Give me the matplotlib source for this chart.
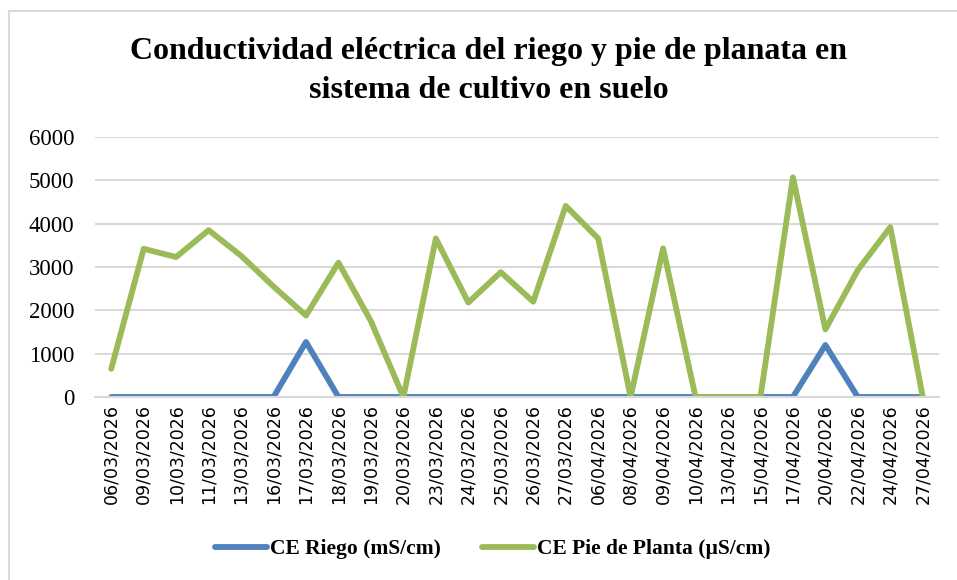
import matplotlib
matplotlib.use("Agg")
import matplotlib.pyplot as plt
from matplotlib.patches import Rectangle

fechas = ["06/03/2026", "09/03/2026", "10/03/2026", "11/03/2026", "13/03/2026",
          "16/03/2026", "17/03/2026", "18/03/2026", "19/03/2026", "20/03/2026",
          "23/03/2026", "24/03/2026", "25/03/2026", "26/03/2026", "27/03/2026",
          "06/04/2026", "08/04/2026", "09/04/2026", "10/04/2026", "13/04/2026",
          "15/04/2026", "17/04/2026", "20/04/2026", "22/04/2026", "24/04/2026",
          "27/04/2026"]
ce_riego = [0, 0, 0, 0, 0, 0, 1270, 0, 0, 0,
            0, 0, 0, 0, 0, 0, 0, 0, 0, 0,
            0, 0, 1200, 0, 0, 0]
ce_pie = [650, 3420, 3230, 3850, 3260, 2550, 1880, 3100, 1750, 0,
          3660, 2180, 2880, 2200, 4410, 3660, 0, 3430, 0, 0,
          0, 5070, 1560, 2930, 3920, 0]

serif = "Liberation Serif"

fig = plt.figure(figsize=(9.57, 5.8), dpi=100)
fig.patches.append(Rectangle((9/957, -0.05), 1.1, 1 - 11/580 + 0.05,
                             transform=fig.transFigure, fill=False,
                             edgecolor="#d9d9d9", linewidth=1.5))

ax = fig.add_axes([95/957, 1 - 397/580, 844/957, 260/580])
x = list(range(len(fechas)))
l1, = ax.plot(x, ce_riego, color="#4f81bd", linewidth=4.2,
              solid_joinstyle="round", solid_capstyle="round",
              label="CE Riego (mS/cm)")
l2, = ax.plot(x, ce_pie, color="#9bbb59", linewidth=4.2,
              solid_joinstyle="round", solid_capstyle="round",
              label="CE Pie de Planta (µS/cm)")

ax.set_xlim(-0.5, len(fechas) - 0.5)
ax.set_ylim(0, 6000)
ax.set_yticks(range(0, 6001, 1000))
ax.set_yticklabels([str(v) for v in range(0, 6001, 1000)],
                   fontfamily=serif, fontsize=16.5)
ax.set_xticks(x)
ax.set_xticklabels(fechas, rotation=90, fontfamily="DejaVu Sans", fontsize=12.5)
ax.tick_params(axis="both", length=0)
ax.tick_params(axis="y", pad=15)
ax.tick_params(axis="x", pad=5)
ax.grid(axis="y", color="#d9d9d9", linewidth=1.5)
ax.set_axisbelow(True)
for s in ["top", "right", "left"]:
    ax.spines[s].set_visible(False)
ax.spines["bottom"].set_color("#d9d9d9")
ax.spines["bottom"].set_linewidth(1.5)

fig.text(489/957, 1 - 71/580,
         "Conductividad eléctrica del riego y pie de planata en\nsistema de cultivo en suelo",
         ha="center", va="center", fontfamily=serif, fontweight="bold",
         fontsize=23, linespacing=1.45)

leg = fig.legend(handles=[l1, l2], loc="center", bbox_to_anchor=(493/957, 1 - 549/580),
                 ncol=2, frameon=False, prop={"family": serif, "weight": "bold", "size": 15.5},
                 handlelength=2.4, handletextpad=0.15, columnspacing=1.9)

fig.savefig("out.png", dpi=100)
